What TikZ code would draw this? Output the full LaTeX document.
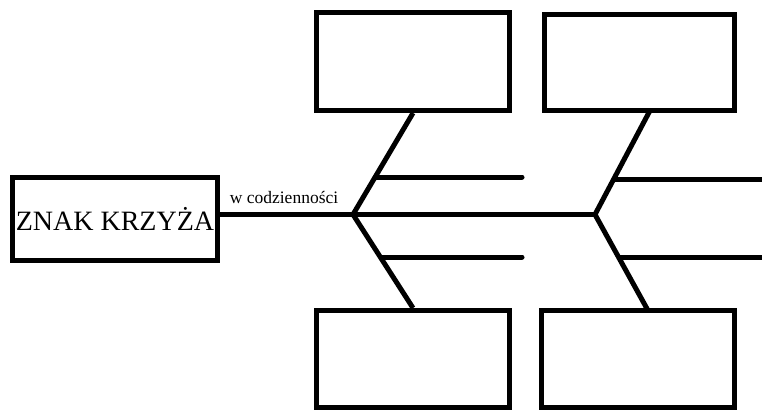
\documentclass[tikz,border=0pt]{standalone}
\usepackage{fontspec}
\setmainfont{Liberation Serif}
\usetikzlibrary{calc}
\tikzstyle{ramka} = [rectangle, draw = black, line width = 5pt, inner sep = 0, minimum width = 193pt, minimum height = 98pt]
\tikzstyle{osc} = [-, line width = 5pt]
\newcommand{\duzy}{\fontsize{28}{30}\selectfont}
\newcommand{\maly}{\fontsize{17.5}{19}\selectfont}

\begin{document}
\begin{tikzpicture}[x = 1pt, y = -1pt]
\useasboundingbox (0, 0) rectangle (762, 410);
\node [ramka, minimum width = 205pt, minimum height = 83pt, font = \duzy] (Z) at (115, 219) {ZNAK KRZYŻA};
\node [ramka] (G1) at (413, 61.5) {};
\node [ramka, minimum width = 190pt, minimum height = 96pt] (G2) at (639.5, 62.5) {};
\node [ramka, minimum height = 97pt] (D1) at (413, 359) {};
\node [ramka, minimum height = 97pt] (D2) at (638, 359) {};
\node [draw = none, inner sep = 0, anchor = base, font = \maly] (N) at (284, 203) {w codzienności};
\coordinate (J1) at (353, 214.5);
\coordinate (J2) at (595, 214.5);
\coordinate (G2s) at (650, 110.5);
\coordinate (D2n) at (648, 310.5);
\coordinate (A1) at (375, 177);
\coordinate (B1) at (522, 177);
\coordinate (A2) at (381, 257);
\coordinate (B2) at (522, 257);
\coordinate (A3) at (614, 179);
\coordinate (B3) at (762, 179);
\coordinate (A4) at (619, 257);
\coordinate (B4) at (762, 257);
\draw [osc] (Z.east |- J1) to (J2);
\draw [osc] (G1.south) -- (J1) -- (D1.north);
\draw [osc] (G2s) -- (J2) -- (D2n);
\draw [osc, line cap = round] (A1) to (B1);
\draw [osc, line cap = round] (A2) to (B2);
\draw [osc] (A3) to (B3);
\draw [osc] (A4) to (B4);
\end{tikzpicture}
\end{document}
